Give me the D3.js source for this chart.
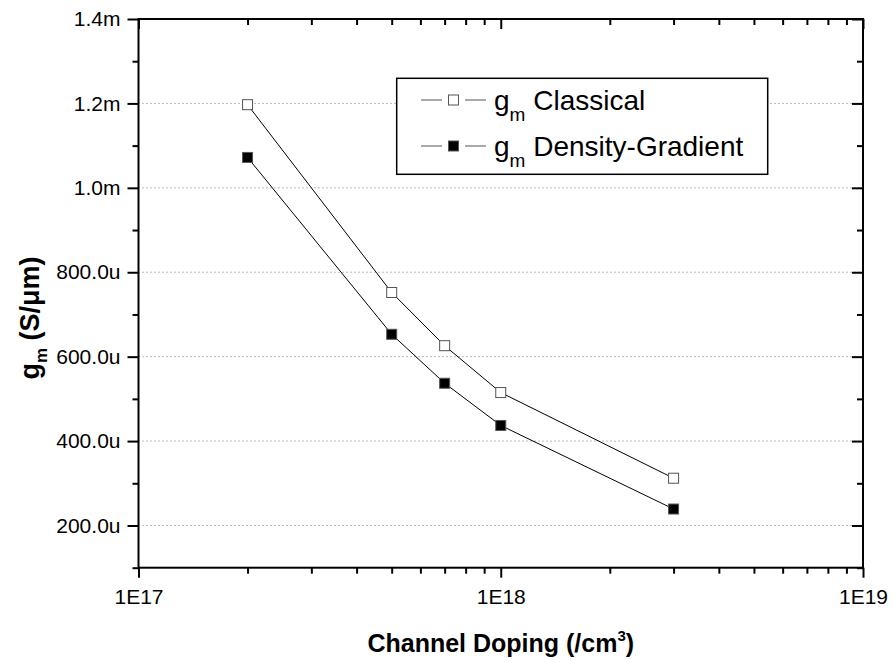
<!DOCTYPE html>
<html>
<head>
<meta charset="utf-8">
<script src="https://cdn.jsdelivr.net/npm/d3@7"></script>
<style>
  html, body { margin: 0; padding: 0; background: #fff; }
  svg { display: block; font-family: "Liberation Sans", Arial, sans-serif; }
</style>
</head>
<body>
<svg id="chart" width="893" height="662"></svg>
<script>
// ---- data ----
const doping = [2e17, 5e17, 7e17, 1e18, 3e18];
const gmClassical = [1.197e-3, 752e-6, 626e-6, 515e-6, 312e-6];
const gmDensityGradient = [1.072e-3, 653e-6, 537e-6, 437e-6, 239e-6];

const yMajorTicks = [200e-6, 400e-6, 600e-6, 800e-6, 1.0e-3, 1.2e-3, 1.4e-3];
const yTickLabels = ["200.0u", "400.0u", "600.0u", "800.0u", "1.0m", "1.2m", "1.4m"];
const yMinorTicks = [100e-6, 300e-6, 500e-6, 700e-6, 900e-6, 1.1e-3, 1.3e-3];
const xMajorTicks = [1e17, 1e18, 1e19];
const xTickLabels = ["1E17", "1E18", "1E19"];
const xMinorTicks = [2e17, 3e17, 4e17, 5e17, 6e17, 7e17, 8e17, 9e17,
                     2e18, 3e18, 4e18, 5e18, 6e18, 7e18, 8e18, 9e18];
const seriesNames = ["Classical", "Density-Gradient"];

// ---- layout ----
const L = 138.5, R = 863, T = 19, B = 567.7;
const svg = d3.select("#chart");
const x = d3.scaleLog().domain([1e17, 1e19]).range([L, R]);
const y = d3.scaleLinear().domain([100e-6, 1.4e-3]).range([B, T]);

// gridlines
svg.append("g").selectAll("line").data(yMajorTicks.slice(0, -1)).join("line")
  .attr("x1", L).attr("x2", R)
  .attr("y1", d => y(d)).attr("y2", d => y(d))
  .attr("stroke", "#777").attr("stroke-width", 1)
  .attr("stroke-dasharray", "1,3");

function styleAxis(g) {
  g.select(".domain").remove();
  g.selectAll(".tick line").attr("stroke", "#000").attr("stroke-width", 2);
  g.selectAll("text").attr("font-size", 21).attr("fill", "#000")
    .attr("font-family", "'Liberation Sans', Arial, sans-serif");
}

// left axis (outward)
svg.append("g").attr("transform", `translate(${L},0)`)
  .call(d3.axisLeft(y).tickValues(yMajorTicks).tickSize(11).tickPadding(7)
    .tickFormat((d, i) => yTickLabels[i]))
  .call(styleAxis);
svg.append("g").attr("transform", `translate(${L},0)`)
  .call(d3.axisLeft(y).tickValues(yMinorTicks).tickSize(6).tickFormat(""))
  .call(styleAxis);
// right axis (inward)
svg.append("g").attr("transform", `translate(${R},0)`)
  .call(d3.axisLeft(y).tickValues(yMajorTicks).tickSize(11).tickFormat(""))
  .call(styleAxis);
svg.append("g").attr("transform", `translate(${R},0)`)
  .call(d3.axisLeft(y).tickValues(yMinorTicks).tickSize(6).tickFormat(""))
  .call(styleAxis);
// bottom axis (outward)
svg.append("g").attr("transform", `translate(0,${B})`)
  .call(d3.axisBottom(x).tickValues(xMajorTicks).tickSize(10).tickPadding(11)
    .tickFormat((d, i) => xTickLabels[i]))
  .call(styleAxis);
svg.append("g").attr("transform", `translate(0,${B})`)
  .call(d3.axisBottom(x).tickValues(xMinorTicks).tickSize(6).tickFormat(""))
  .call(styleAxis);
// top axis (inward)
svg.append("g").attr("transform", `translate(0,${T})`)
  .call(d3.axisBottom(x).tickValues(xMajorTicks).tickSize(10).tickFormat(""))
  .call(styleAxis);
svg.append("g").attr("transform", `translate(0,${T})`)
  .call(d3.axisBottom(x).tickValues(xMinorTicks).tickSize(6).tickFormat(""))
  .call(styleAxis);

// frame
svg.append("rect").attr("x", L).attr("y", T).attr("width", R - L).attr("height", B - T)
  .attr("fill", "none").attr("stroke", "#000").attr("stroke-width", 2);

// series
const series = [
  { values: gmClassical, fill: "#fff" },
  { values: gmDensityGradient, fill: "#000" }
];
const line = d3.line().x(d => x(d[0])).y(d => y(d[1]));
series.forEach(s => {
  const pts = doping.map((d, i) => [d, s.values[i]]);
  svg.append("path").attr("d", line(pts)).attr("fill", "none")
    .attr("stroke", "#000").attr("stroke-width", 1);
  svg.append("g").selectAll("rect").data(pts).join("rect")
    .attr("x", d => x(d[0]) - 5).attr("y", d => y(d[1]) - 5)
    .attr("width", 10).attr("height", 10)
    .attr("fill", s.fill).attr("stroke", "#555").attr("stroke-width", 1);
});

// legend
const lg = svg.append("g");
lg.append("rect").attr("x", 396.7).attr("y", 78.3).attr("width", 371).attr("height", 96)
  .attr("fill", "#fff").attr("stroke", "#000").attr("stroke-width", 1.5);
series.forEach((s, i) => {
  const cy = 100 + i * 46;
  lg.append("line").attr("x1", 421).attr("x2", 442).attr("y1", cy).attr("y2", cy)
    .attr("stroke", "#555").attr("stroke-width", 1);
  lg.append("line").attr("x1", 465).attr("x2", 486).attr("y1", cy).attr("y2", cy)
    .attr("stroke", "#555").attr("stroke-width", 1);
  lg.append("rect").attr("x", 448.5).attr("y", cy - 5).attr("width", 10).attr("height", 10)
    .attr("fill", s.fill).attr("stroke", "#555").attr("stroke-width", 1);
  const t = lg.append("text").attr("x", 494).attr("y", cy + 10)
    .attr("font-size", 28).attr("fill", "#000");
  t.append("tspan").text("g");
  t.append("tspan").attr("font-size", 19).attr("dy", 11).text("m");
  t.append("tspan").attr("dy", -11).text(" " + seriesNames[i]);
});

// axis titles
const xt = svg.append("text").attr("x", (L + R) / 2).attr("y", 652)
  .attr("text-anchor", "middle").attr("font-size", 25).attr("font-weight", "bold");
xt.append("tspan").text("Channel Doping (/cm");
xt.append("tspan").attr("font-size", 15).attr("dy", -11).text("3");
xt.append("tspan").attr("dy", 11).text(")");

const yt = svg.append("text").attr("transform", "translate(39,318) rotate(-90)")
  .attr("text-anchor", "middle").attr("font-size", 27).attr("font-weight", "bold");
yt.append("tspan").text("g");
yt.append("tspan").attr("font-size", 17).attr("dy", 8).text("m");
yt.append("tspan").attr("dy", -8).text(" (S/\u03BCm)");
</script>
</body>
</html>
